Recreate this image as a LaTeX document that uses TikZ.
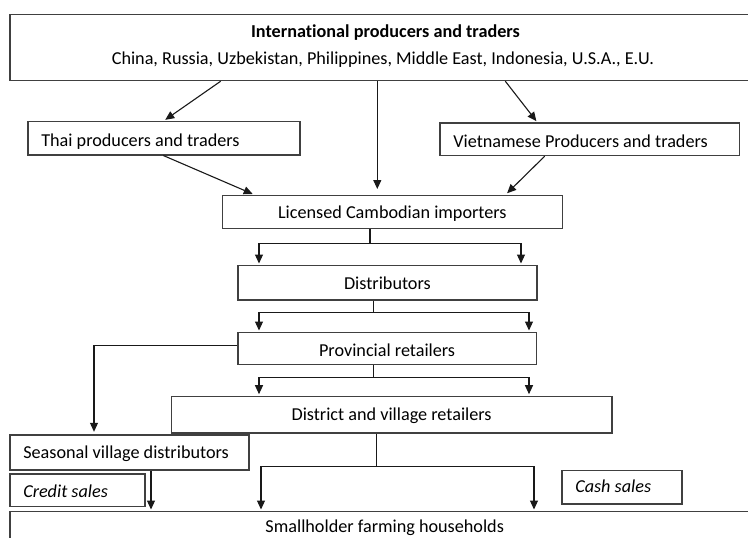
\documentclass[tikz,border=0pt]{standalone}
\usepackage{fontspec}
\setmainfont{Carlito}[Ligatures={NoCommon}]
\usetikzlibrary{arrows.meta}
\newcommand{\lefttext}[2]{\makebox[#1][l]{#2}}
\begin{document}
\begin{tikzpicture}[x=1pt,y=-1pt,
  font=\fontsize{18.2}{22}\selectfont,
  box/.style={draw=black!75, line width=1.2pt, inner sep=0pt, anchor=north west},
  lbox/.style={box, inner xsep=13.4pt},
  ln/.style={draw=black!90, line width=1.1pt},
  arr/.style={ln, -{Triangle[length=9pt,width=8pt]}, shorten >=1.5pt}]
\useasboundingbox (0,0) rectangle (748,538);
\clip (0,0) rectangle (748,538);

% boxes
\node[box, minimum width=749.7pt, minimum height=66pt] (intl) at (9.3,14) {};
\node[anchor=base, inner sep=0pt] (intltitle) at (385.5,37.3) {\bfseries International producers and traders};
\node[anchor=base, inner sep=0pt] (intlcountries) at (383,64) {China, Russia, Uzbekistan, Philippines, Middle East, Indonesia, U.S.A., E.U.};

\node[lbox, minimum height=33.6pt, text height=16.4pt, text depth=0pt] (thai) at (27.3,120.7) {\lefttext{245.2pt}{Thai producers and traders}};
\node[lbox, minimum height=32.7pt, text height=16pt, text depth=0pt] (viet) at (439.3,122.3) {\lefttext{272.6pt}{Vietnamese Producers and traders}};

\node[box, minimum width=339.5pt, minimum height=32.7pt, text height=13.9pt, text depth=0pt] (lic) at (222,195) {Licensed Cambodian importers};
\node[box, minimum width=299pt, minimum height=34.3pt, text height=14.3pt, text depth=0pt] (dist) at (237.3,265) {Distributors};
\node[box, minimum width=298.4pt, minimum height=31.7pt, text height=16.3pt, text depth=0pt] (prov) at (237.3,332) {Provincial retailers};
\node[box, minimum width=440.6pt, minimum height=36.6pt, text height=12pt, text depth=0pt] (distr) at (170.7,395.7) {District and village retailers};

\node[lbox, minimum height=35pt, text height=13pt, text depth=0pt] (seas) at (9.3,434.3) {\lefttext{212.2pt}{Seasonal village distributors}};
\node[lbox, minimum height=32.4pt, text height=15.6pt, text depth=0pt] (credit) at (9.3,473.3) {\lefttext{108.2pt}{\itshape Credit sales}};
\node[lbox, minimum height=33.6pt, text height=11.6pt, text depth=0pt] (cash) at (561.3,469.7) {\lefttext{93.2pt}{\itshape Cash sales}};

\node[box, minimum width=749.7pt, minimum height=60pt, text height=0pt, text depth=18.6pt] (small) at (9.3,511) {Smallholder farming households};

% connectors from the top box
\draw[arr] (220.7,0 |- intl.south) -- (164,0 |- thai.north);
\draw[arr, shorten >=6pt] (377.3,0 |- intl.south) -- (377.3,0 |- lic.north);
\draw[arr] (505.3,0 |- intl.south) -- (537.3,0 |- viet.north);
\draw[arr, shorten >=2.5pt] (163.3,0 |- thai.south) -- (255,0 |- lic.north);
\draw[arr, shorten >=2.5pt] (544.7,0 |- viet.south) -- (505.3,0 |- lic.north);

% importers -> distributors
\coordinate (j1) at (370,243.3);
\draw[ln] (370,0 |- lic.south) -- (j1);
\draw[arr] (j1) -| (259,0 |- dist.north);
\draw[arr] (j1) -| (521,0 |- dist.north);

% distributors -> provincial
\coordinate (j2) at (373.7,312.7);
\draw[ln] (373.7,0 |- dist.south) -- (j2);
\draw[arr] (j2) -| (259,0 |- prov.north);
\draw[arr] (j2) -| (529,0 |- prov.north);

% provincial -> district
\coordinate (j3) at (373.7,377.5);
\draw[ln] (373.7,0 |- prov.south) -- (j3);
\draw[arr] (j3) -| (259,0 |- distr.north);
\draw[arr] (j3) -| (529,0 |- distr.north);

% provincial -> seasonal
\draw[arr, shorten >=2.5pt] (prov.west |- 0,345.3) -| (94,0 |- seas.north);

% seasonal -> smallholder
\draw[arr] (151,0 |- seas.south) -- (151,0 |- small.north);

% district -> smallholder
\coordinate (j4) at (376.7,466.3);
\draw[ln] (376.7,0 |- distr.south) -- (j4);
\draw[arr] (j4) -| (261,0 |- small.north);
\draw[arr] (j4) -| (534,0 |- small.north);
\end{tikzpicture}
\end{document}
